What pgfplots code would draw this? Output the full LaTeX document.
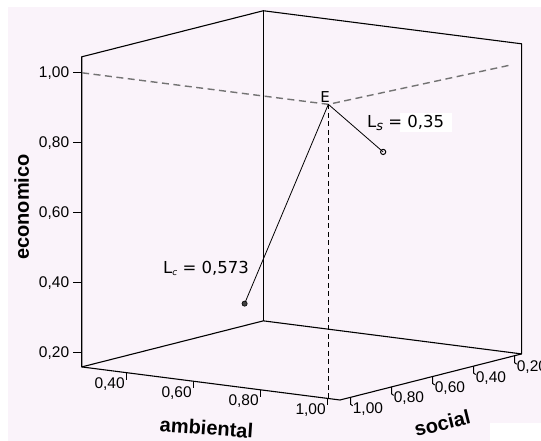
\documentclass[border=0pt]{standalone}
\usepackage{fontspec}
\setmainfont{Liberation Sans}
\newfontfamily\dejavu{DejaVu Sans}
\usepackage{pgfplots}
\pgfplotsset{compat=1.18}
\usetikzlibrary{calc,backgrounds}
\definecolor{bgpink}{RGB}{250,243,250}
\definecolor{dashgray}{RGB}{115,115,115}
\def\amin{0.265}\def\amax{1.036}
\def\smin{0.166}\def\smax{1.052}
\def\zmin{0.16}\def\zmax{1.046}
\newcommand\tickfont{\fontsize{15.5}{16}\selectfont}
\newcommand\titfont{\bfseries\fontsize{20}{20}\selectfont}
\newcommand\annfont{\dejavu\fontsize{16.5}{17}\selectfont}
\begin{document}
\begin{tikzpicture}
\begin{axis}[
  x={(335pt,-42.9pt)}, y={(-205pt,-52pt)}, z={(0pt,350pt)},
  xmin=\amin, xmax=\amax, ymin=\smin, ymax=\smax, zmin=\zmin, zmax=\zmax,
  hide axis, clip=false,
]
% background box (three back faces)
\draw[line width=1.1pt, line join=round]
  (axis cs:\amin,\smax,\zmax) -- (axis cs:\amin,\smax,\zmin) -- (axis cs:\amax,\smax,\zmin)
  -- (axis cs:\amax,\smin,\zmin) -- (axis cs:\amax,\smin,\zmax) -- (axis cs:\amin,\smin,\zmax) -- cycle;
\draw[line width=1.1pt, line join=round]
  (axis cs:\amin,\smax,\zmin) -- (axis cs:\amin,\smin,\zmin) -- (axis cs:\amax,\smin,\zmin);
\draw[line width=1.1pt] (axis cs:\amin,\smin,\zmin) -- (axis cs:\amin,\smin,\zmax);
% economico ticks
\draw[line width=1.1pt] (axis cs:\amin,\smax,0.2) -- ++(-9pt,0pt) node[anchor=east,inner sep=0pt,xshift=-3pt,font=\tickfont]{0,20};
\draw[line width=1.1pt] (axis cs:\amin,\smax,0.4) -- ++(-9pt,0pt) node[anchor=east,inner sep=0pt,xshift=-3pt,font=\tickfont]{0,40};
\draw[line width=1.1pt] (axis cs:\amin,\smax,0.6) -- ++(-9pt,0pt) node[anchor=east,inner sep=0pt,xshift=-3pt,font=\tickfont]{0,60};
\draw[line width=1.1pt] (axis cs:\amin,\smax,0.8) -- ++(-9pt,0pt) node[anchor=east,inner sep=0pt,xshift=-3pt,font=\tickfont]{0,80};
\draw[line width=1.1pt] (axis cs:\amin,\smax,1.0) -- ++(-9pt,0pt) node[anchor=east,inner sep=0pt,xshift=-3pt,font=\tickfont]{1,00};
% ambiental ticks
\draw[line width=1pt] (axis cs:0.4,\smax,\zmin) -- ++(0pt,-7pt);
\draw[line width=1pt] (axis cs:0.6,\smax,\zmin) -- ++(0pt,-7pt);
\draw[line width=1pt] (axis cs:0.8,\smax,\zmin) -- ++(0pt,-7pt);
\draw[line width=1pt] (axis cs:1.0,\smax,\zmin) -- ++(0pt,-7pt);
\node[anchor=north east,inner sep=0pt,font=\tickfont] at ($(axis cs:0.4,\smax,\zmin)+(-2pt,-5pt)$) {0,40};
\node[anchor=north east,inner sep=0pt,font=\tickfont] at ($(axis cs:0.6,\smax,\zmin)+(-2pt,-5pt)$) {0,60};
\node[anchor=north east,inner sep=0pt,font=\tickfont] at ($(axis cs:0.8,\smax,\zmin)+(-2pt,-5pt)$) {0,80};
\node[anchor=north east,inner sep=0pt,font=\tickfont] at ($(axis cs:1.0,\smax,\zmin)+(-2pt,-5pt)$) {1,00};
% social ticks
\draw[line width=1pt] (axis cs:\amax,1.0,\zmin) -- ++(0pt,-7pt) -- ++(2pt,-1.5pt);
\draw[line width=1pt] (axis cs:\amax,0.8,\zmin) -- ++(0pt,-7pt) -- ++(2pt,-1.5pt);
\draw[line width=1pt] (axis cs:\amax,0.6,\zmin) -- ++(0pt,-7pt) -- ++(2pt,-1.5pt);
\draw[line width=1pt] (axis cs:\amax,0.4,\zmin) -- ++(0pt,-7pt) -- ++(2pt,-1.5pt);
\draw[line width=1pt] (axis cs:\amax,0.2,\zmin) -- ++(0pt,-7pt) -- ++(2pt,-1.5pt);
\node[anchor=north west,inner sep=0pt,font=\tickfont] at ($(axis cs:\amax,1.0,\zmin)+(2pt,-5pt)$) {1,00};
\node[anchor=north west,inner sep=0pt,font=\tickfont] at ($(axis cs:\amax,0.8,\zmin)+(2pt,-5pt)$) {0,80};
\node[anchor=north west,inner sep=0pt,font=\tickfont] at ($(axis cs:\amax,0.6,\zmin)+(2pt,-5pt)$) {0,60};
\node[anchor=north west,inner sep=0pt,font=\tickfont] at ($(axis cs:\amax,0.4,\zmin)+(2pt,-5pt)$) {0,40};
\node[anchor=north west,inner sep=0pt,font=\tickfont] at ($(axis cs:\amax,0.2,\zmin)+(2pt,-5pt)$) {0,20};
% data
\addplot3[dashgray, line width=1.4pt, dash pattern=on 7pt off 4.5pt] coordinates {(0.265,1.05,1.0) (1.0,1.05,1.0) (1.0,0.15,0.98)};
\addplot3[black, line width=0.8pt, dash pattern=on 5pt off 3.5pt] coordinates {(1.0,1.05,1.0) (1.0,1.05,0.16)};
\addplot3[black, line width=0.8pt] coordinates {(1.0,1.05,1.0) (0.98,0.75,0.817)};
\addplot3[black, line width=0.8pt] coordinates {(1.0,1.05,1.0) (0.75,1.05,0.40)};
\addplot3[only marks, mark=*, mark size=2.6pt, mark options={fill=darkgray, draw=black, line width=0.6pt}] coordinates {(0.75,1.05,0.40)};
\addplot3[only marks, mark=o, mark size=2.6pt, mark options={draw=black, fill=bgpink, line width=1pt}] coordinates {(0.98,0.75,0.817)};
\coordinate (B) at (axis cs:\amax,\smax,\zmin);
\end{axis}
\begin{scope}[on background layer]
\fill[bgpink] ($(B)+(-332pt,-41pt)$) rectangle ($(B)+(201pt,393pt)$);
\fill[white] ($(B)+(150pt,-41pt)$) rectangle ($(B)+(201pt,-23pt)$);
\end{scope}
% annotations
\fill[white] ($(B)+(60pt,268pt)$) rectangle ($(B)+(112pt,287pt)$);
\node[font=\dejavu\fontsize{15}{15}\selectfont, inner sep=0pt] at ($(B)+(-15pt,303pt)$) {E};
\node[anchor=base west, inner sep=0pt, font=\annfont] at ($(B)+(27pt,272pt)$) {L\raisebox{-2.5pt}{\fontsize{13}{13}\itshape s} = 0,35};
\node[anchor=base west, inner sep=0pt, font=\annfont] at ($(B)+(-177pt,126pt)$) {L\raisebox{-1.5pt}{\fontsize{9}{9}\itshape c} = 0,573};
% axis titles
\node[anchor=base, inner sep=0pt, rotate=90, font=\titfont] at ($(B)+(-311pt,193pt)$) {economico};
\node[anchor=base, inner sep=0pt, rotate=-4, font=\titfont] at ($(B)+(-134pt,-35pt)$) {ambiental};
\node[anchor=base, inner sep=0pt, rotate=14, font=\titfont] at ($(B)+(104pt,-30pt)$) {social};
\pgfresetboundingbox
\path[use as bounding box] ($(B)+(-340pt,-41pt)$) rectangle ($(B)+(201pt,400pt)$);
\end{tikzpicture}
\end{document}
